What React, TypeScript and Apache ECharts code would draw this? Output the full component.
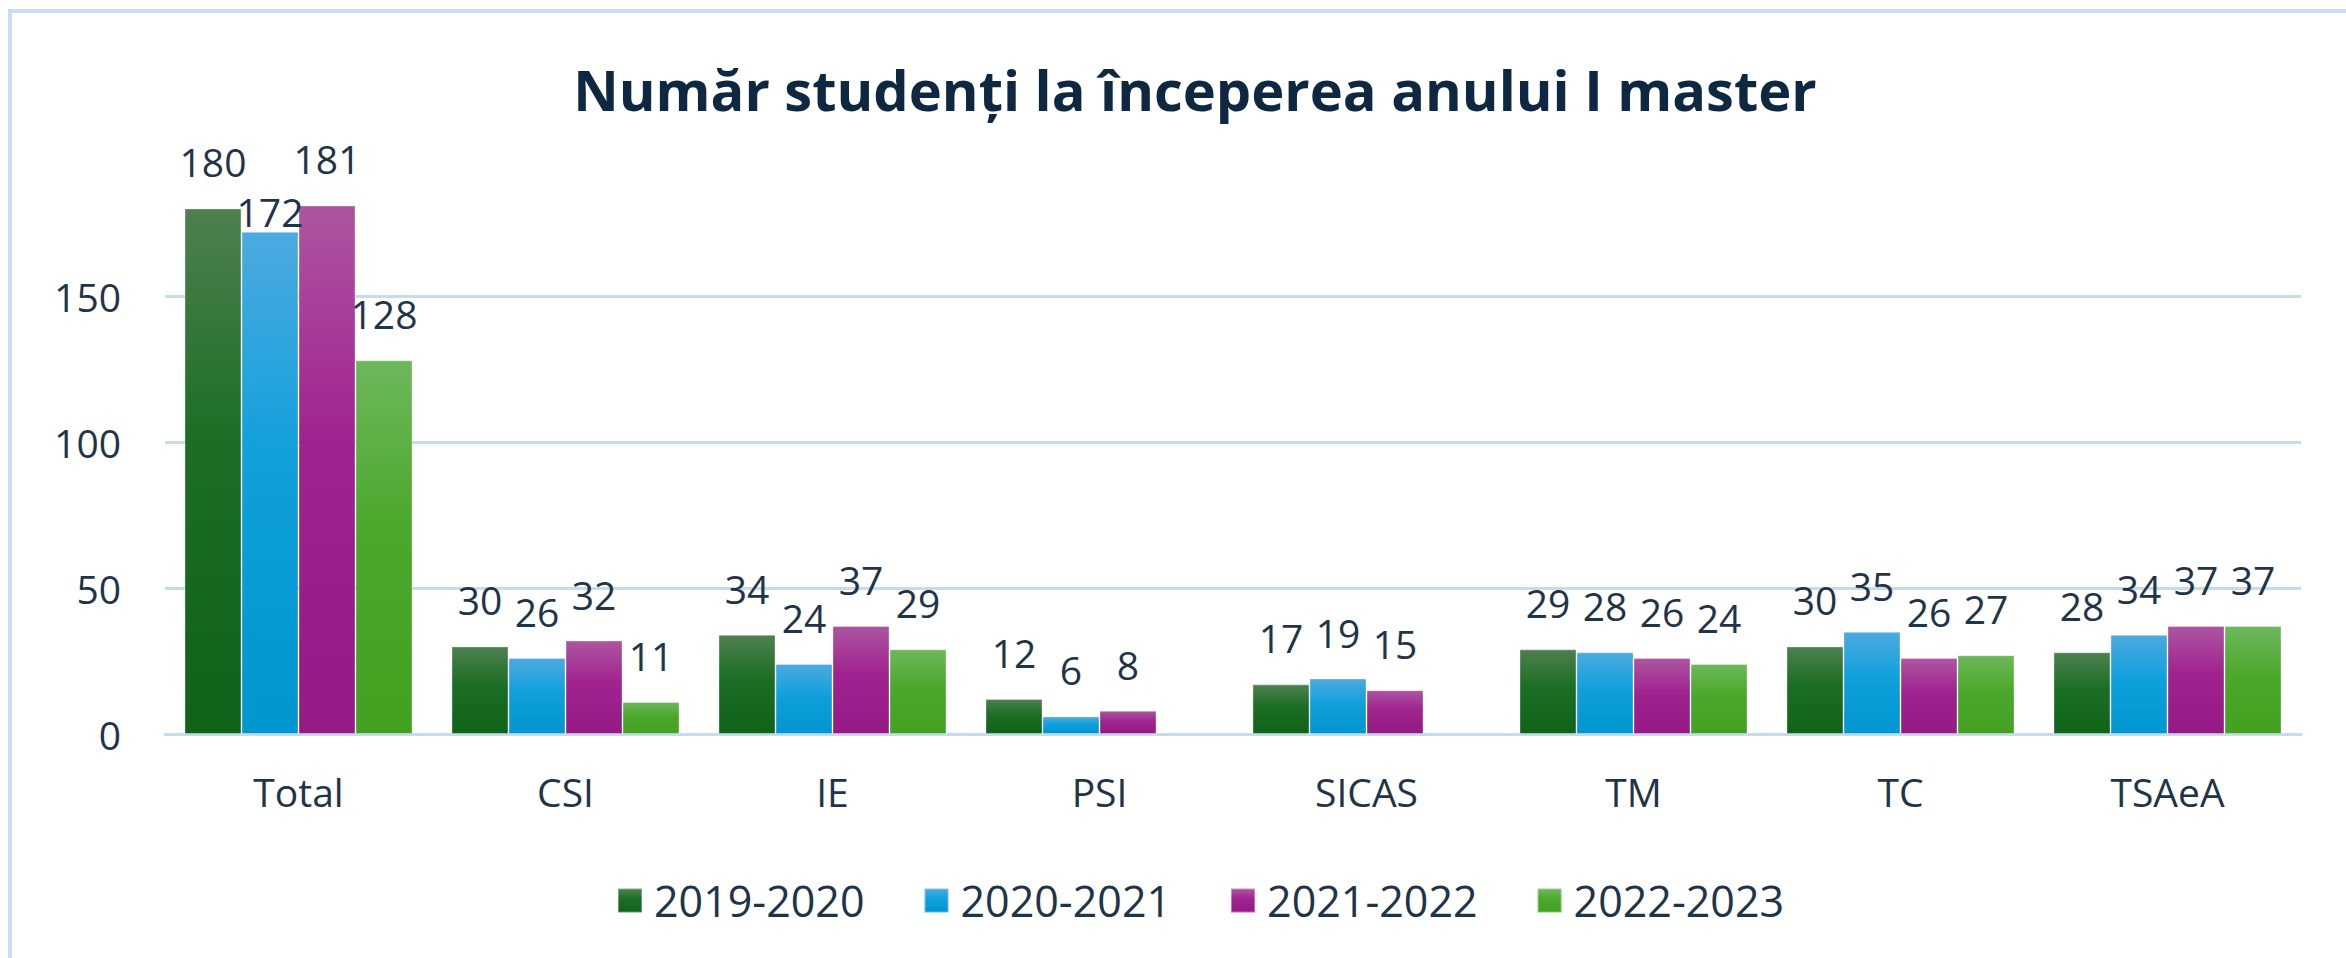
import React, { useEffect, useRef } from "react";
import * as echarts from "echarts";

const categories = ["Total", "CSI", "IE", "PSI", "SICAS", "TM", "TC", "TSAeA"];
const seriesNames = ["2019-2020", "2020-2021", "2021-2022", "2022-2023"];
const values2019 = [180, 30, 34, 12, 17, 29, 30, 28];
const values2020 = [172, 26, 24, 6, 19, 28, 35, 34];
const values2021 = [181, 32, 37, 8, 15, 26, 26, 37];
const values2022 = [128, 11, 29, null, null, 24, 27, 37];
const allValues = [values2019, values2020, values2021, values2022];

const gradients = [
  ["#4e8050", "#1b6e23", "#0f6318"],
  ["#4caadf", "#10a0dc", "#0096d0"],
  ["#ad55a1", "#a0238f", "#951a86"],
  ["#6db75b", "#4ca82c", "#43a020"],
];

const FONT = "'Open Sans', 'Noto Sans', sans-serif";
const TEXT = "#1f3449";

export default function App() {
  const ref = useRef<HTMLDivElement>(null);
  useEffect(() => {
    document.body.style.margin = "0";
    if (!ref.current) return;
    const chart = echarts.init(ref.current, null, { renderer: "svg" });
    const series = seriesNames.map((name, si) => ({
      name,
      type: "bar",
      barGap: "0%",
      barCategoryGap: "14.6%",
      itemStyle: {
        color: new echarts.graphic.LinearGradient(0, 0, 0, 1, [
          { offset: 0, color: gradients[si][0] },
          { offset: 0.45, color: gradients[si][1] },
          { offset: 1, color: gradients[si][2] },
        ]),
        borderColor: "rgba(255,255,255,0.35)",
        borderWidth: 1,
      },
      label: {
        show: true,
        position: "top",
        distance: 27,
        color: TEXT,
        fontFamily: FONT,
        fontSize: 39,
      },
      data: allValues[si].map((v, i) =>
        si === 1 && i === 0 ? { value: v, label: { distance: 1 } } : v
      ),
    }));
    chart.setOption({
      animation: false,
      backgroundColor: "#ffffff",
      title: {
        text: "Număr studenți la începerea anului I master",
        left: 1190,
        textAlign: "center",
        top: 56,
        textStyle: {
          fontFamily: FONT,
          fontWeight: 700,
          fontSize: 56,
          color: "#0e2841",
        },
      },
      graphic: [
        {
          type: "rect",
          shape: { x: 10, y: 11, width: 2400, height: 1000 },
          style: { fill: "none", stroke: "#c8dcf2", lineWidth: 4 },
          silent: true,
        },
      ],
      legend: {
        left: 612,
        top: 874,
        itemWidth: 24,
        itemHeight: 24,
        itemGap: 59,
        icon: "rect",
        textStyle: {
          fontFamily: FONT,
          fontSize: 43,
          color: TEXT,
          padding: [0, 0, 0, 7],
        },
        data: seriesNames,
      },
      grid: { left: 165, right: 45, top: 150, bottom: 224 },
      xAxis: {
        type: "category",
        data: categories,
        axisLine: { show: true, lineStyle: { color: "#c6daf0", width: 3 } },
        axisTick: { show: false },
        axisLabel: {
          margin: 38,
          color: TEXT,
          fontFamily: FONT,
          fontSize: 39,
        },
      },
      yAxis: {
        type: "value",
        min: 0,
        max: 200,
        interval: 50,
        axisLine: { show: false },
        axisTick: { show: false },
        axisLabel: {
          margin: 44,
          color: TEXT,
          fontFamily: FONT,
          fontSize: 39,
          showMaxLabel: false,
        },
        splitLine: {
          showMaxLine: false,
          lineStyle: { color: "#c6daf0", width: 3 },
        },
      },
      series,
    });
    return () => chart.dispose();
  }, []);
  return <div ref={ref} style={{ width: 2346, height: 958 }} />;
}
